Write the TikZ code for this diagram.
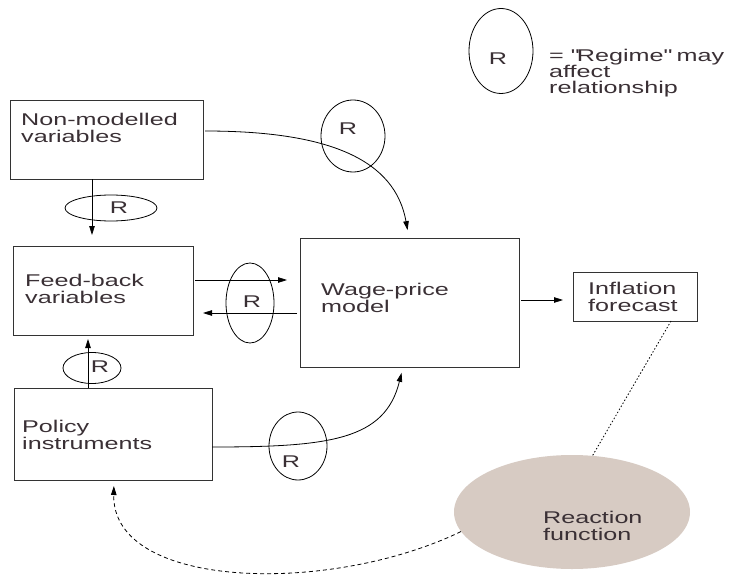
\documentclass[tikz,border=0pt]{standalone}
\usepackage{fontspec}
\setmainfont{Liberation Sans}[FakeStretch=1.48]
\usepackage{tikz}
\usetikzlibrary{calc,arrows.meta,shapes.geometric}

\definecolor{inkgray}{HTML}{3A3035}
\definecolor{reactfill}{HTML}{D7CBC3}

\tikzset{
	box/.style={draw=black!80, line width=0.8pt, outer sep=0pt, anchor=north west},
	txt/.style={anchor=north west, inner sep=0pt, align=left, text=inkgray, font=\fontsize{17}{17.5}\selectfont},
	regime/.style={ellipse, draw, line width=0.8pt, inner sep=0pt},
	rlab/.style={inner sep=0pt, text=inkgray, font=\fontsize{17}{17}\selectfont},
	arr/.style={line width=0.8pt, -{Triangle[length=9pt,width=5.5pt]}},
}

\begin{document}
\begin{tikzpicture}[x=1pt,y=-1pt]
	\useasboundingbox (0,0) rectangle (739,575);
	% boxes
	\node[box, minimum width=193pt, minimum height=79pt] (nonmod) at (10,100) {};
	\node[box, minimum width=180pt, minimum height=89pt] (feed) at (13,246) {};
	\node[box, minimum width=219pt, minimum height=129pt] (wage) at (300,238) {};
	\node[box, minimum width=124pt, minimum height=49pt] (infl) at (573,272) {};
	\node[box, minimum width=198pt, minimum height=92pt] (policy) at (14,388) {};
	\node[ellipse, fill=reactfill, inner sep=0pt, minimum width=236pt, minimum height=114pt] (react) at (572,512) {}; % reaction function
	% texts
	\node[txt] (nonmodtxt) at (21,112.5) {Non-modelled\\variables};
	\node[txt] (feedtxt) at (25,273.5) {Feed-back\\variables};
	\node[txt] (wagetxt) at (321,282.8) {Wage-price\\model};
	\node[txt] (infltxt) at (588,281.5) {Inflation\\forecast};
	\node[txt] (policytxt) at (22,419.5) {Policy\\instruments};
	\node[txt] (reacttxt) at (543,510.8) {Reaction\\function};
	% legend
	\node[regime, minimum width=64pt, minimum height=85pt] (rkey) at (501,51) {};
	\node[rlab] (rkeytxt) at (498,59) {R};
	\node[txt, font=\fontsize{17}{16}\selectfont] (keytxt) at (549,49) {= \textquotedbl Regime\textquotedbl{} may\\affect\\relationship};
	% connectors
	\draw[arr, shorten >=11pt] (nonmod.south -| 92,0) -- (feed.north -| 92,0);
	\draw[arr, shorten <=2pt, shorten >=13pt] (feed.east |- 0,280) -- (wage.west |- 0,280);
	\draw[arr, shorten <=3pt, shorten >=10pt] (wage.west |- 0,313) -- (feed.east |- 0,313);
	\draw[arr, shorten <=2pt, shorten >=10pt] (wage.east |- 0,300) -- (infl.west |- 0,300);
	\draw[arr, shorten >=4pt] (policy.north -| 88,0) -- (feed.south -| 88,0);
	\draw[arr, shorten <=2pt, shorten >=8pt] (nonmod.east |- 0,131) .. controls (330,131) and (395,160) .. (wage.north -| 409,0);
	\draw[arr, shorten >=6pt] (policy.east |- 0,447) .. controls (330,447) and (385,440) .. (wage.south -| 403,0);
	\draw[arr, dash pattern=on 4pt off 3pt, shorten >=6pt] (react.190) .. controls (330,595) and (112,590) .. (policy.south -| 114,0); % feedback to policy
	\draw[line width=0.8pt, dash pattern=on 1.5pt off 2pt] (infl.south -| 671,0) -- (react.70);
	% regime ellipses
	\node[regime, minimum width=64pt, minimum height=72pt] (r1) at (353,136) {};
	\node[rlab] (r1txt) at (348,129) {R};
	\node[regime, minimum width=92pt, minimum height=26pt] (r2) at (111,208) {};
	\node[rlab] (r2txt) at (119,208) {R};
	\node[regime, minimum width=48pt, minimum height=80pt] (r3) at (250,303) {};
	\node[rlab] (r3txt) at (252,302) {R};
	\node[regime, minimum width=58pt, minimum height=31pt] (r4) at (92,368) {};
	\node[rlab] (r4txt) at (100,367) {R};
	\node[regime, minimum width=58pt, minimum height=68pt] (r5) at (298,446) {};
	\node[rlab] (r5txt) at (291,462) {R};
\end{tikzpicture}
\end{document}
